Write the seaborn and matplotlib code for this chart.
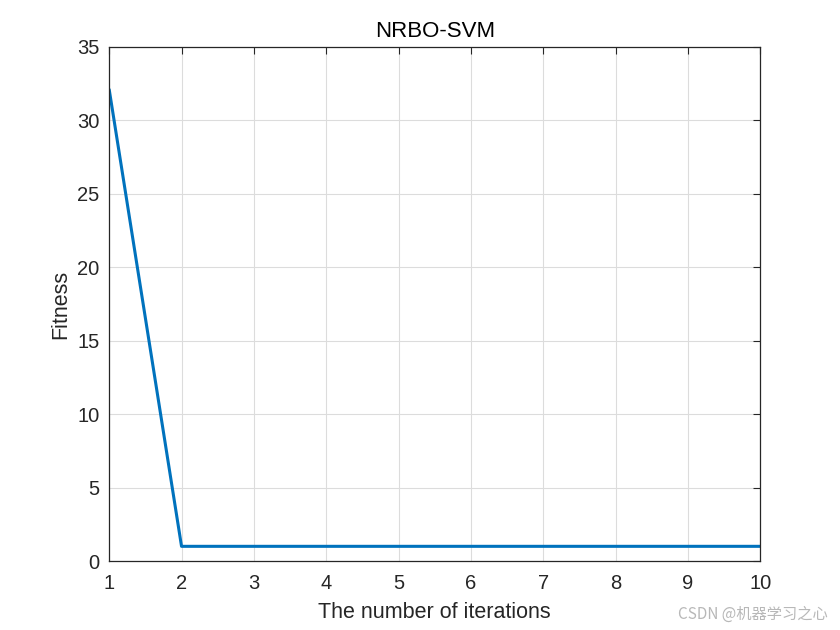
import numpy as np
import pandas as pd
import matplotlib
matplotlib.use('Agg')
import matplotlib.pyplot as plt
import seaborn as sns

# 収束曲線のデータ
iterations = [1, 2, 3, 4, 5, 6, 7, 8, 9, 10]
fitness = [32.1, 1.0, 1.0, 1.0, 1.0, 1.0, 1.0, 1.0, 1.0, 1.0]
x_ticks = list(range(1, 11))
y_ticks = [0, 5, 10, 15, 20, 25, 30, 35]

sns.set_theme(style='white')
plt.rcParams['font.family'] = ['Liberation Sans', 'Noto Sans CJK SC', 'DejaVu Sans']

df = pd.DataFrame({'iter': iterations, 'fitness': fitness})

fig = plt.figure(figsize=(8.4, 6.3), dpi=100)
ax = fig.add_axes([0.13, 0.1095, 0.775, 0.816])

sns.lineplot(data=df, x='iter', y='fitness', ax=ax, color='#0072BD', linewidth=2.2)

ax.set_xlim(1, 10)
ax.set_ylim(0, 35)
ax.set_xticks(x_ticks)
ax.set_yticks(y_ticks)
ax.tick_params(axis='both', direction='in', length=5, width=0.8, colors='#262626',
               labelsize=14.5, top=True, right=True)
ax.tick_params(axis='x', pad=9)
ax.tick_params(axis='y', pad=7)
ax.grid(True, color='#dcdcdc', linewidth=0.8)
for s in ax.spines.values():
    s.set_color('#262626')
    s.set_linewidth(0.9)

ax.set_title('NRBO-SVM', fontsize=16, color='black', pad=7)
ax.set_xlabel('The number of iterations', fontsize=15.5, color='#262626', labelpad=7)
ax.set_ylabel('Fitness', fontsize=15.5, color='#262626', labelpad=4)

fig.text(0.985, 0.012, 'CSDN @机器学习之心', ha='right', va='bottom',
         fontsize=11, color='#b8b8b8', family=['Noto Sans CJK SC', 'DejaVu Sans'])

fig.savefig('out.png', dpi=100, facecolor='white')
